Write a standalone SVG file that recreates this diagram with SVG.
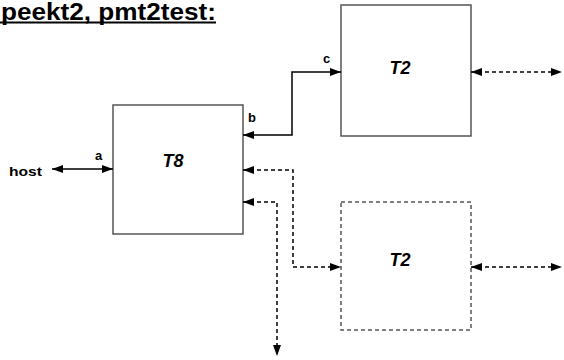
<svg xmlns="http://www.w3.org/2000/svg" width="564" height="360" viewBox="0 0 564 360">
<defs>
<marker id="ah" viewBox="0 0 11 8" refX="11" refY="4" markerWidth="11" markerHeight="8" markerUnits="userSpaceOnUse" orient="auto-start-reverse">
<path d="M0,0 L11,4 L0,8 z" fill="#000"/>
</marker>
</defs>
<style>
.box{fill:#fff;stroke:#555;stroke-width:1.5}
.dbox{fill:#fff;stroke:#555;stroke-width:1.5;stroke-dasharray:4,3}
.c{fill:none;stroke:#000;stroke-width:1.5;marker-start:url(#ah);marker-end:url(#ah)}
.d{stroke-dasharray:4,3}
.lbl{font-family:"Liberation Sans",Arial,sans-serif;font-weight:bold;font-size:13px;fill:#000}
.nm{font-family:"Liberation Sans",Arial,sans-serif;font-weight:bold;font-style:italic;font-size:18px;fill:#000;text-anchor:middle}
</style>
<rect width="564" height="360" fill="#fff"/>
<g id="title">
<text x="1" y="19.5" font-family="'Liberation Sans',Arial,sans-serif" font-weight="bold" font-size="23" textLength="215" lengthAdjust="spacingAndGlyphs">peekt2, pmt2test:</text>
<line x1="0" y1="22.5" x2="216" y2="22.5" stroke="#000" stroke-width="2"/>
</g>
<g id="host"><text class="lbl" x="9" y="176" textLength="33" lengthAdjust="spacingAndGlyphs">host</text></g>
<g id="T8">
<rect class="box" x="113" y="105" width="130" height="129"/>
<text class="nm" x="173" y="167">T8</text>
</g>
<g id="T2a">
<rect class="box" x="341" y="5" width="130" height="131"/>
<text class="nm" x="400" y="74">T2</text>
</g>
<g id="T2b">
<rect class="dbox" x="341" y="202" width="130" height="128"/>
<text class="nm" x="400" y="266">T2</text>
</g>
<g id="connectors">
<path class="c" d="M52,169 H113"/>
<path class="c" d="M243,135 H292 V72 H341"/>
<path class="c d" d="M243,170 H293 V267 H341"/>
<path class="c d" d="M243,202 H277 V356"/>
<path class="c d" d="M471,72 H562"/>
<path class="c d" d="M471,267 H562"/>
<text class="lbl" x="95" y="160">a</text>
<text class="lbl" x="248" y="122">b</text>
<text class="lbl" x="323" y="63">c</text>
</g>
</svg>
